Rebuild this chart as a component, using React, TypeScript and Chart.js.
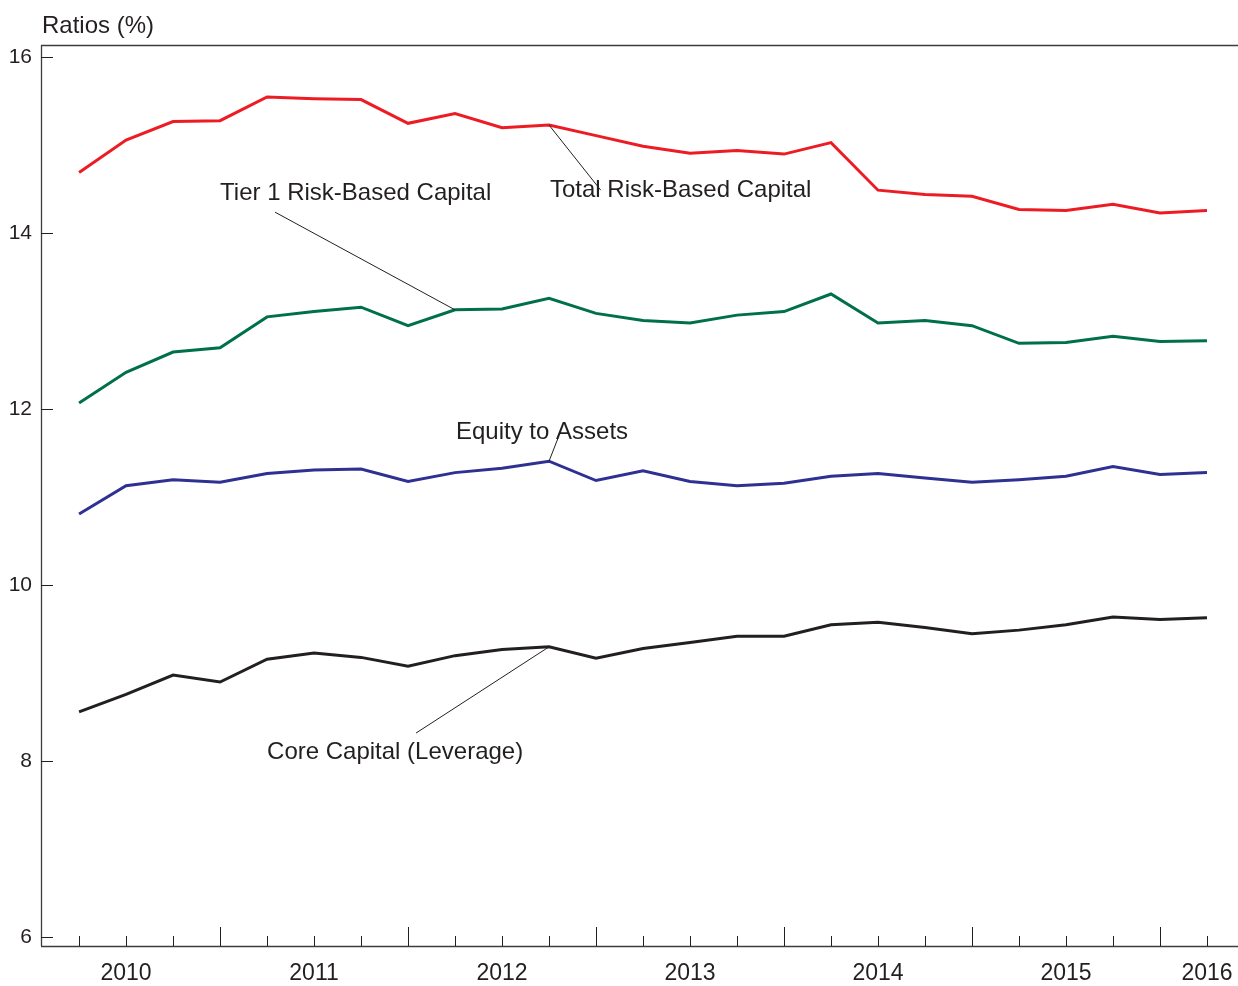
import React, { useEffect, useRef } from "react";
import { Chart, registerables } from "chart.js";

Chart.register(...registerables);

// Quarter positions (index along the x axis)
const quarterIndex = [0, 1, 2, 3, 4, 5, 6, 7, 8, 9, 10, 11, 12, 13, 14, 15, 16, 17, 18, 19, 20, 21, 22, 23, 24];

const totalRiskBased = [14.69, 15.06, 15.27, 15.28, 15.55, 15.53, 15.52, 15.25, 15.36, 15.2, 15.23, 15.11, 14.99, 14.91, 14.94, 14.9, 15.03, 14.49, 14.44, 14.42, 14.27, 14.26, 14.33, 14.23, 14.26];
const tier1RiskBased = [12.07, 12.42, 12.65, 12.7, 13.05, 13.11, 13.16, 12.95, 13.13, 13.14, 13.26, 13.09, 13.01, 12.98, 13.07, 13.11, 13.31, 12.98, 13.01, 12.95, 12.75, 12.76, 12.83, 12.77, 12.78];
const equityToAssets = [10.81, 11.13, 11.2, 11.17, 11.27, 11.31, 11.32, 11.18, 11.28, 11.33, 11.41, 11.19, 11.3, 11.18, 11.13, 11.16, 11.24, 11.27, 11.22, 11.17, 11.2, 11.24, 11.35, 11.26, 11.28];
const coreCapital = [8.56, 8.76, 8.98, 8.9, 9.16, 9.23, 9.18, 9.08, 9.2, 9.27, 9.3, 9.17, 9.28, 9.35, 9.42, 9.42, 9.55, 9.58, 9.52, 9.45, 9.49, 9.55, 9.64, 9.61, 9.63];

const yearLabels = ["2010", "2011", "2012", "2013", "2014", "2015", "2016"];
const yearLabelIndex = [1, 5, 9, 13, 17, 21, 24];
const yearBoundaryIndex = [3, 7, 11, 15, 19, 23];
const yTickValues = [6, 8, 10, 12, 14, 16];

const seriesNames = ["Total Risk-Based Capital", "Tier 1 Risk-Based Capital", "Equity to Assets", "Core Capital (Leverage)"];
const seriesColors = ["#ED1C24", "#00704A", "#2E3192", "#231F20"];

const TEXT = "#231F20";
const FONT = '"Liberation Sans", Arial, Helvetica, sans-serif';

// annotation: label anchor (x index, y value), leader start (x,y) and target point index
const annotations = [
  { text: seriesNames[0], tx: 10.02, ty: 14.49, lx: 11.1, ly: 14.49, series: 0, point: 10 },
  { text: seriesNames[1], tx: 3.0, ty: 14.45, lx: 4.17, ly: 14.24, series: 1, point: 8 },
  { text: seriesNames[2], tx: 8.02, ty: 11.74, lx: 10.19, ly: 11.67, series: 2, point: 10 },
  { text: seriesNames[3], tx: 4.0, ty: 8.1, lx: 7.17, ly: 8.32, series: 3, point: 10 },
];

const allSeries = [totalRiskBased, tier1RiskBased, equityToAssets, coreCapital];

const overlayPlugin = {
  id: "overlay",
  afterDraw(chart: any) {
    const { ctx, chartArea: a, scales } = chart;
    const xs = scales.x;
    const ys = scales.y;
    ctx.save();
    // frame
    ctx.strokeStyle = "#3c3c3c";
    ctx.lineWidth = 1.3;
    ctx.beginPath();
    ctx.moveTo(a.left, a.top + 0.5);
    ctx.lineTo(a.right, a.top + 0.5);
    ctx.moveTo(a.left + 0.5, a.top);
    ctx.lineTo(a.left + 0.5, a.bottom);
    ctx.moveTo(a.left, a.bottom + 0.5);
    ctx.lineTo(a.right, a.bottom + 0.5);
    ctx.stroke();

    // y ticks (inward)
    ctx.lineWidth = 1;
    ctx.strokeStyle = "#231F20";
    ctx.beginPath();
    for (const v of yTickValues) {
      const py = Math.round(ys.getPixelForValue(v)) + 0.5;
      ctx.moveTo(a.left, py);
      ctx.lineTo(a.left + 12, py);
    }
    // x ticks (inward, upward)
    for (const i of quarterIndex) {
      const px = Math.round(xs.getPixelForValue(i)) + 0.5;
      const len = yearBoundaryIndex.includes(i) ? 19 : 10;
      ctx.moveTo(px, a.bottom);
      ctx.lineTo(px, a.bottom - len);
    }
    ctx.stroke();

    // title
    ctx.fillStyle = TEXT;
    ctx.font = `24px ${FONT}`;
    ctx.textAlign = "left";
    ctx.textBaseline = "middle";
    ctx.fillText("Ratios (%)", a.left + 1, a.top - 19);

    // annotations
    ctx.strokeStyle = "#231F20";
    ctx.lineWidth = 1;
    for (const an of annotations) {
      const data = allSeries[an.series];
      ctx.beginPath();
      ctx.moveTo(xs.getPixelForValue(an.point), ys.getPixelForValue(data[an.point]));
      ctx.lineTo(xs.getPixelForValue(an.lx), ys.getPixelForValue(an.ly));
      ctx.stroke();
    }
    for (const an of annotations) {
      ctx.fillText(an.text, xs.getPixelForValue(an.tx), ys.getPixelForValue(an.ty));
    }
    ctx.restore();
  },
};

export default function App() {
  const ref = useRef<HTMLCanvasElement | null>(null);

  useEffect(() => {
    document.body.style.margin = "0";
    const canvas = ref.current;
    if (!canvas) return;
    const chart = new Chart(canvas, {
      type: "line",
      data: {
        datasets: allSeries.map((s, k) => ({
          label: seriesNames[k],
          data: s.map((v, i) => ({ x: quarterIndex[i], y: v })),
          borderColor: seriesColors[k],
          backgroundColor: seriesColors[k],
          borderWidth: 3,
          pointRadius: 0,
          tension: 0,
          fill: false,
        })),
      },
      options: {
        responsive: false,
        animation: false,
        devicePixelRatio: 1,
        layout: { autoPadding: false, padding: { top: 45, right: 0, left: 0, bottom: 0 } },
        plugins: {
          legend: { display: false },
          tooltip: { enabled: false },
          title: { display: false },
        },
        scales: {
          x: {
            type: "linear",
            min: -0.81,
            max: 24.66,
            grid: { display: false, drawTicks: false },
            border: { display: false },
            afterBuildTicks: (scale: any) => {
              scale.ticks = yearLabelIndex.map((v) => ({ value: v }));
            },
            afterFit: (scale: any) => {
              scale.height = 40;
              scale.paddingLeft = 0;
              scale.paddingRight = 0;
            },
            ticks: {
              autoSkip: false,
              maxRotation: 0,
              padding: 14,
              color: TEXT,
              font: { family: FONT, size: 23 },
              callback: (value: any) => {
                const k = yearLabelIndex.indexOf(Number(value));
                return k >= 0 ? yearLabels[k] : "";
              },
            },
          },
          y: {
            type: "linear",
            min: 5.9,
            max: 16.14,
            grid: { display: false, drawTicks: false },
            border: { display: false },
            afterBuildTicks: (scale: any) => {
              scale.ticks = yTickValues.map((v) => ({ value: v }));
            },
            afterFit: (scale: any) => {
              scale.width = 41;
              scale.paddingTop = 0;
              scale.paddingBottom = 0;
            },
            ticks: {
              padding: 9,
              color: TEXT,
              font: { family: FONT, size: 21 },
              callback: (value: any) => String(value),
            },
          },
        },
      },
      plugins: [overlayPlugin],
    });
    return () => chart.destroy();
  }, []);

  return (
    <div style={{ width: 1238, height: 986, background: "#fff" }}>
      <canvas ref={ref} width={1238} height={986} style={{ display: "block" }} />
    </div>
  );
}
